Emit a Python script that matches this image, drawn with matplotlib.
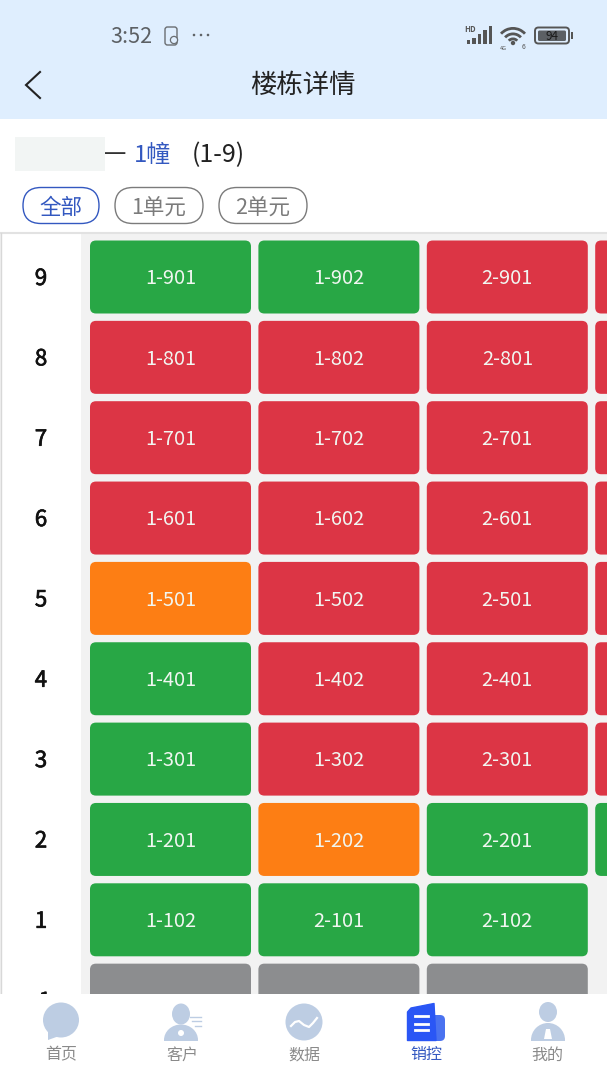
import matplotlib
matplotlib.use('Agg')
import matplotlib.pyplot as plt
import matplotlib.patheffects as pe
from matplotlib.patches import FancyBboxPatch, Rectangle, Circle, Ellipse, Polygon, Wedge

plt.rcParams['font.family'] = ['Noto Sans CJK SC', 'DejaVu Sans']

# ---- data ----
floors = ['9', '8', '7', '6', '5', '4', '3', '2', '1', '-1']
units = [
    ['1-901', '1-902', '2-901', ''],
    ['1-801', '1-802', '2-801', ''],
    ['1-701', '1-702', '2-701', ''],
    ['1-601', '1-602', '2-601', ''],
    ['1-501', '1-502', '2-501', ''],
    ['1-401', '1-402', '2-401', ''],
    ['1-301', '1-302', '2-301', ''],
    ['1-201', '1-202', '2-201', ''],
    ['1-102', '2-101', '2-102', None],
    ['', '', '', None],
]
status = ['ggrr', 'rrrr', 'rrrr', 'rrrr', 'orrr', 'grrr', 'grrr', 'gogg', 'ggg-', 'xxx-']
status_colors = {'g': '#28A745', 'r': '#DC3545', 'o': '#FD7E14', 'x': '#8C8D8F'}
tabs = ['全部', '1单元', '2单元']
nav_labels = ['首页', '客户', '数据', '销控', '我的']
nav_active = '销控'
page_title = '楼栋详情'
clock = '3:52'
battery = '94'

# ---- layout ----
W, H = 607, 1080
fig = plt.figure(figsize=(W / 100, H / 100), dpi=100, facecolor='white')
ax = fig.add_axes([0, 0, 1, 1])
ax.set_xlim(0, W)
ax.set_ylim(H, 0)
ax.axis('off')

HDR = '#DFEEFE'
BLUE = '#3358C0'
GRID_BOTTOM = 994
CELL_X0, CELL_DX, CELL_W = 90, 168.4, 161
CELL_Y0, CELL_DY, CELL_H = 240.5, 80.35, 73


def rrect(x, y, w, h, r, fc, ec='none', lw=0, z=2):
    p = FancyBboxPatch((x + r, y + r), w - 2 * r, h - 2 * r,
                       boxstyle=f'round,pad={r},rounding_size={r}',
                       fc=fc, ec=ec, lw=lw, zorder=z)
    ax.add_patch(p)
    return p


# header
ax.add_patch(Rectangle((0, 0), W, 119, fc=HDR, ec='none', zorder=1))
ax.text(131.5, 37, clock, fontsize=15.5, color='#5C6064', ha='center', va='center', zorder=3)
rrect(165, 27, 12, 18, 2.5, 'none', '#6A6E72', 1, 3)
ax.add_patch(Circle((174, 40), 3.6, fc=HDR, ec='#6A6E72', lw=.9, zorder=4))
for dx in (194, 201, 208):
    ax.add_patch(Circle((dx, 35), 1.3, fc='#606468', ec='none', zorder=3))
ax.text(470, 30, 'HD', fontsize=5.6, color='#555', ha='center', va='center', zorder=3, fontweight='bold')
for i, sh in enumerate((4, 6, 10, 14, 18)):
    ax.add_patch(Rectangle((467 + i * 5.4, 44 - sh), 3.4, sh, fc='#555', ec='none', zorder=3))
for r in (7, 12, 17.5):
    ax.add_patch(Wedge((513, 44.5), r, 222, 318, width=2.8, fc='#555', ec='none', zorder=3))
ax.add_patch(Circle((513, 43), 2.2, fc='#555', ec='none', zorder=3))
ax.text(523, 47, '6', fontsize=5, color='#555', ha='center', va='center', zorder=3)
ax.text(503, 48, '4G', fontsize=4, color='#555', ha='center', va='center', zorder=3)
rrect(535, 27.5, 34, 16, 3.5, 'none', '#555', 1.4, 3)
rrect(538, 30.5, 28, 10.5, 1.5, '#5C6064', z=3)
ax.add_patch(Rectangle((571, 32), 2, 7, fc='#555', ec='none', zorder=3))
ax.text(551.5, 36.4, battery, fontsize=8.5, color='#1A1A1A', ha='center', va='center', zorder=4)
ax.plot([40, 26, 40], [72, 85, 98], color='#222', lw=1.5, zorder=3, solid_joinstyle='miter')
ax.text(303, 85.5, page_title, fontsize=19, color='#222', ha='center', va='center', zorder=3)

# building line
ax.add_patch(Rectangle((15, 137), 90, 34, fc='#F2F5F4', ec='none', zorder=1))
ax.text(115.5, 155, '一', fontsize=16, color='#333', ha='center', va='center', zorder=3)
ax.text(152.5, 155, '1幢', fontsize=17.2, color=BLUE, ha='center', va='center', zorder=3)
ax.text(218.5, 155, '(1-9)', fontsize=18, color='#222', ha='center', va='center', zorder=3)

# tabs
tab_x = [(23, 76), (115, 88), (219, 88)]
for j, (t, (x, w)) in enumerate(zip(tabs, tab_x)):
    col = BLUE if j == 0 else '#7B7B7B'
    rrect(x, 187.5, w, 36, 18, 'white', col, 1.0, 2)
    ax.text(x + w / 2, 208, t, fontsize=15.5, color=col, ha='center', va='center', zorder=3)

# grid panel
ax.add_patch(Rectangle((0, 232), W, GRID_BOTTOM - 232, fc='#F2F2F2', ec='none', zorder=1))
ax.plot([0, W], [232.5, 232.5], color='#E2E2E2', lw=1.5, zorder=2)
ax.add_patch(Rectangle((1, 233), 80, GRID_BOTTOM - 233, fc='white', ec='none', zorder=1.5))
ax.plot([.7, .7], [233, GRID_BOTTOM], color='#D8D8D8', lw=1, zorder=2)

for i, fl in enumerate(floors):
    y = CELL_Y0 + i * CELL_DY
    ax.text(41, y + CELL_H / 2 + 1.5, fl, fontsize=16, color='#111', ha='center', va='center', zorder=1.8,
            path_effects=[pe.withStroke(linewidth=.5, foreground='#111')])
    for j, (lab, st) in enumerate(zip(units[i], status[i])):
        if st == '-':
            continue
        x = CELL_X0 + j * CELL_DX
        rrect(x, y, CELL_W, CELL_H, 6, status_colors[st])
        if lab:
            ax.text(x + CELL_W / 2, y + CELL_H / 2 + 1.8, lab, fontsize=14.4, color='#F1F6F1',
                    ha='center', va='center', zorder=3)

# bottom nav
ax.add_patch(Rectangle((0, GRID_BOTTOM), W, H - GRID_BOTTOM, fc='white', ec='none', zorder=5))
ICON = '#BDCDE3'
nav_x = [61, 182, 304, 426, 547]
for x, lab in zip(nav_x, nav_labels):
    ax.text(x, 1059.5, lab, fontsize=11.5, color=BLUE if lab == nav_active else '#8A8A8A',
            ha='center', va='baseline', zorder=7)
# home
ax.add_patch(Ellipse((61, 1020), 36, 35, fc=ICON, ec='none', zorder=6))
ax.add_patch(Polygon([[48, 1028], [48, 1040], [62, 1035]], fc=ICON, ec='none', zorder=6))
# customer
ax.add_patch(Ellipse((181, 1014), 18, 21, fc=ICON, ec='none', zorder=6))
ax.add_patch(Ellipse((181, 1040), 34, 31, fc=ICON, ec='none', zorder=6))
ax.add_patch(Rectangle((160, 1040.5), 42, 18, fc='white', ec='none', zorder=6.1))
ax.add_patch(Circle((181, 1033), 3, fc='white', ec='none', zorder=7))
for x0, yy in ((190, 1017), (192, 1021), (195, 1026)):
    ax.plot([x0, 201], [yy, yy], color=ICON, lw=1, zorder=6)
# data
ax.add_patch(Ellipse((304, 1022), 37, 37, fc=ICON, ec='none', zorder=6))
ax.plot([291, 295, 299, 304, 309, 313, 317], [1026, 1022, 1021, 1025, 1027, 1023, 1018],
        color='white', lw=1.6, zorder=7)
# sales control
rrect(430, 1015, 15, 26, 5, '#4A72F0', z=6)
ax.add_patch(Polygon([[407.5, 1012], [411, 1008], [434, 1003.5], [436, 1040.5], [407.5, 1040.5]],
                     fc='#2A56F5', ec='#2A56F5', lw=1, joinstyle='round', zorder=7))
for yy in (1016, 1024, 1030):
    ax.plot([415, 428], [yy, yy], color='white', lw=2, zorder=8)
# mine
ax.add_patch(Ellipse((548, 1012), 18, 20, fc=ICON, ec='none', zorder=6))
ax.add_patch(Ellipse((548, 1040), 34, 34, fc=ICON, ec='none', zorder=6))
ax.add_patch(Rectangle((528, 1040.5), 40, 18, fc='white', ec='none', zorder=6.1))
ax.add_patch(Polygon([[546, 1029], [550, 1029], [552, 1039], [544, 1039]], fc='white', ec='none', zorder=7))

fig.savefig('out.png', dpi=100, facecolor='white')
